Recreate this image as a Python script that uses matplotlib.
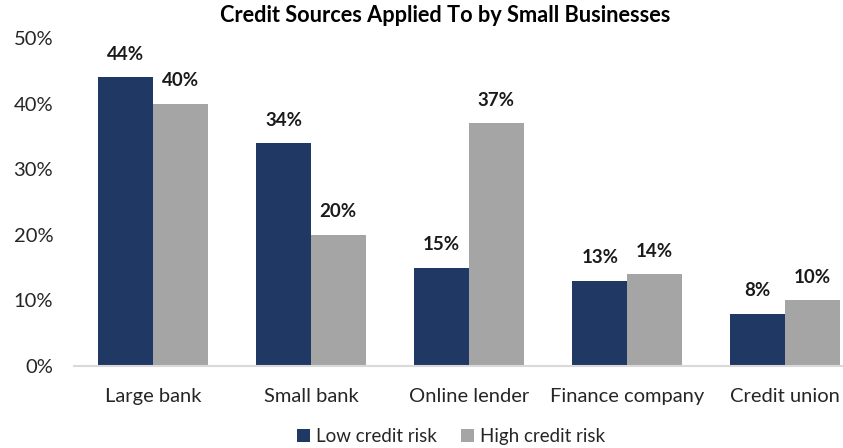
import numpy as np
import matplotlib.pyplot as plt

plt.rcParams['font.family'] = ['Lato', 'DejaVu Sans']

categories = ['Large bank', 'Small bank', 'Online lender', 'Finance company', 'Credit union']
low_risk = [44, 34, 15, 13, 8]
high_risk = [40, 20, 37, 14, 10]

navy = '#203864'
grey = '#A5A5A5'

fig = plt.figure(figsize=(8.43, 4.48), dpi=100)
ax = fig.add_axes([74 / 843, 82 / 448, 790 / 843, 328 / 448])

x = np.arange(len(categories))
w = 0.345
b1 = ax.bar(x - w / 2, low_risk, w, color=navy, label='Low credit risk')
b2 = ax.bar(x + w / 2, high_risk, w, color=grey, label='High credit risk')

# value labels above each bar
for bars in (b1, b2):
    for bar in bars:
        h = bar.get_height()
        ax.text(bar.get_x() + bar.get_width() / 2, h + 2.2, f'{h:.0f}%',
                ha='center', va='bottom', fontsize=13.5, fontweight='bold', color='#1a1a1a')

ax.set_xlim(-0.5, len(categories) - 0.5)
ax.set_ylim(0, 50)
ax.set_yticks(range(0, 51, 10))
ax.set_yticklabels([f'{v}%' for v in range(0, 51, 10)])
ax.set_xticks(x)
ax.set_xticklabels(categories)
ax.tick_params(axis='y', length=0, pad=15, labelsize=14.5, labelcolor='#262626')
ax.tick_params(axis='x', length=0, pad=16, labelsize=14.5, labelcolor='#262626')

for s in ['top', 'right', 'left']:
    ax.spines[s].set_visible(False)
ax.spines['bottom'].set_color('#D9D9D9')
ax.spines['bottom'].set_linewidth(1.5)

fig.text(445 / 843, 0.965, 'Credit Sources Applied To by Small Businesses',
         ha='center', va='center', fontsize=15.7, fontweight='bold', color='black')

fig.legend(loc='center', bbox_to_anchor=(0.535, 0.025), ncol=2, frameon=False,
           fontsize=13.5, handlelength=0.7, handleheight=0.7, handletextpad=0.3,
           columnspacing=1.3, labelcolor='#262626')

fig.savefig('out.png', dpi=100)
